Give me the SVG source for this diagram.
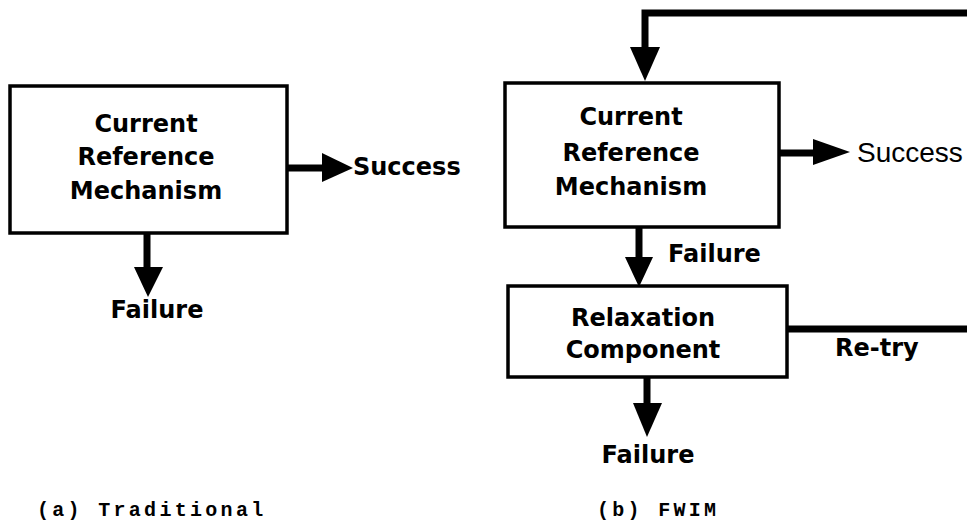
<svg xmlns="http://www.w3.org/2000/svg" width="967" height="527" viewBox="0 0 967 527">
<style>
.box{fill:#fff;stroke:#000;stroke-width:3.5}
.t{font-family:"DejaVu Sans","Liberation Sans",sans-serif;font-weight:bold;font-size:24px;fill:#000}
.m{text-anchor:middle}
.ln{stroke:#000;fill:none;stroke-width:7}
.hd{fill:#000;stroke:none}
.cap{font-family:"Liberation Mono","Courier New",monospace;font-weight:bold;font-size:20px;letter-spacing:3.3px;fill:#000}
.reg{font-family:"Liberation Sans",Arial,sans-serif;font-size:28px;fill:#000}
</style>
<rect width="967" height="527" fill="#fff"/>
<g id="connectors">
  <line class="ln" x1="287" y1="168" x2="324" y2="168"/>
  <polygon class="hd" points="322,153 353,168 322,182"/>
  <line class="ln" x1="147" y1="233" x2="147" y2="269"/>
  <polygon class="hd" points="134,267 163,267 148,297"/>
  <polyline class="ln" points="788,329 967,329"/>
  <polyline class="ln" points="967,13 645,13 645,49"/>
  <polygon class="hd" points="630,47 660,47 645,81"/>
  <line class="ln" x1="779" y1="153" x2="815" y2="153"/>
  <polygon class="hd" points="813,139 850,152 813,165"/>
  <line class="ln" x1="639" y1="227" x2="639" y2="259"/>
  <polygon class="hd" points="625,257 653,257 639,287"/>
  <line class="ln" x1="647" y1="377" x2="647" y2="405"/>
  <polygon class="hd" points="633,403 662,403 647,437"/>
</g>
<g id="node-a-crm">
  <rect class="box" x="10" y="86" width="277" height="147"/>
  <text class="t m" x="146" y="132">Current</text>
  <text class="t m" x="146" y="165">Reference</text>
  <text class="t m" x="146" y="199">Mechanism</text>
</g>
<g id="label-a-success"><text class="t" x="353" y="175">Success</text></g>
<g id="label-a-failure"><text class="t m" x="157" y="318">Failure</text></g>
<g id="node-b-crm">
  <rect class="box" x="505" y="83" width="274" height="144"/>
  <text class="t m" x="631" y="125">Current</text>
  <text class="t m" x="631" y="161">Reference</text>
  <text class="t m" x="631" y="195">Mechanism</text>
</g>
<g id="label-b-success"><text class="reg" x="857" y="162">Success</text></g>
<g id="label-b-failure1"><text class="t" x="668" y="262">Failure</text></g>
<g id="node-b-relax">
  <rect class="box" x="508" y="286" width="279" height="91"/>
  <text class="t m" x="643" y="326">Relaxation</text>
  <text class="t m" x="643" y="358">Component</text>
</g>
<g id="label-b-retry"><text class="t" x="835" y="356">Re-try</text></g>
<g id="label-b-failure2"><text class="t m" x="648" y="463">Failure</text></g>
<text class="cap" x="37" y="516">(a) Traditional</text>
<text class="cap" x="597" y="516">(b) FWIM</text>
</svg>
